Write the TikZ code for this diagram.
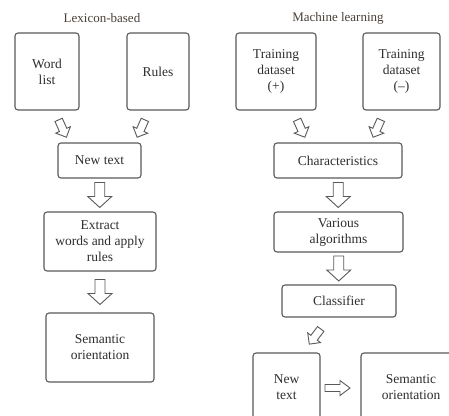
\documentclass[tikz,border=0pt]{standalone}
\usepackage{fontspec}
\setmainfont{Liberation Serif}
\usetikzlibrary{calc}
\definecolor{boxline}{HTML}{5A5A5A}
\definecolor{txtc}{HTML}{2E2E2E}
\definecolor{ttlc}{HTML}{4A4038}
\tikzset{
  box/.style={draw=boxline, line width=1.1pt, rounded corners=3pt, fill=white,
    align=center, text=txtc, font=\fontsize{13.5}{16}\selectfont, inner sep=0pt},
  ttl/.style={text=ttlc, font=\fontsize{13}{16}\selectfont, inner sep=0pt},
  arr/.style={draw=boxline, line width=0.9pt, fill=white, line join=miter},
  pics/downarr/.style={code={\draw[arr] (-12.5,-5) -- (1.5,-5) -- (1.5,-12) -- (12.5,0) -- (1.5,12) -- (1.5,5) -- (-12.5,5) -- cycle;}},
  pics/tiltarr/.style={code={\draw[arr] (-9.5,-4) -- (1.5,-4) -- (1.5,-8) -- (9.5,0) -- (1.5,8) -- (1.5,4) -- (-9.5,4) -- cycle;}},
  pics/sidearr/.style={code={\draw[arr] (-12.5,-3.5) -- (2.5,-3.5) -- (2.5,-7.5) -- (12.5,0) -- (2.5,7.5) -- (2.5,3.5) -- (-12.5,3.5) -- cycle;}},
}
\begin{document}
\begin{tikzpicture}[x=1pt,y=-1pt]
\useasboundingbox (0,0) rectangle (449,415);
\clip (0,0) rectangle (449,415);
\fill[white] (0,0) rectangle (449,415);

% Lexicon-based
\node[ttl] (lextitle) at (102,18) {Lexicon-based};
\node[box, minimum width=64pt, minimum height=77pt] (wordlist) at (47,71.5) {Word\\list};
\node[box, minimum width=62pt, minimum height=77pt] (rules) at (158,71.5) {Rules};
\node[box, minimum width=83pt, minimum height=35pt] (newtext) at (99.5,160.5) {New text};
\node[box, minimum width=112pt, minimum height=59pt] (extract) at (100,241.5) {Extract\\words and apply\\rules};
\node[box, minimum width=108pt, minimum height=69pt] (sem1) at (100,347.5) {Semantic\\orientation};

\pic[rotate=-66] at ($(wordlist.south)+(15.5,18)$) {tiltarr};
\pic[rotate=-114] at ($(rules.south)+(-17,18)$) {tiltarr};
\pic[rotate=-90] at ($(newtext.south)!0.5!(extract.north)$) {downarr};
\pic[rotate=-90] at ($(extract.south)!0.5!(sem1.north)$) {downarr};

% Machine learning
\node[ttl] (mltitle) at (338,18) {Machine learning};
\node[box, minimum width=80pt, minimum height=77pt] (trainp) at (276,71.5) {Training\\dataset\\(+)};
\node[box, minimum width=77pt, minimum height=77pt] (trainn) at (401.5,71.5) {Training\\dataset\\(–)};
\node[box, minimum width=128pt, minimum height=35pt] (charac) at (338,160.5) {Characteristics};
\node[box, minimum width=129pt, minimum height=40pt] (various) at (338.5,232) {Various\\algorithms};
\node[box, minimum width=114pt, minimum height=32pt] (classifier) at (339,301) {Classifier};
\node[box, minimum width=67pt, minimum height=68pt] (newtext2) at (286.5,387) {New\\text};
\node[box, minimum width=100pt, minimum height=68pt] (sem2) at (411,387) {Semantic\\orientation};

\pic[rotate=-66] at ($(trainp.south)+(25,18)$) {tiltarr};
\pic[rotate=-114] at ($(trainn.south)+(-24.5,18)$) {tiltarr};
\pic[rotate=-90] at ($(charac.south)!0.5!(various.north)$) {downarr};
\pic[rotate=-90] at ($(various.south)!0.5!(classifier.north)$) {downarr};
\pic[rotate=-127] at ($(classifier.south)+(-24,19)$) {tiltarr};
\pic at ($(newtext2.east)!0.5!(sem2.west)+(-3,1)$) {sidearr};
\end{tikzpicture}
\end{document}
